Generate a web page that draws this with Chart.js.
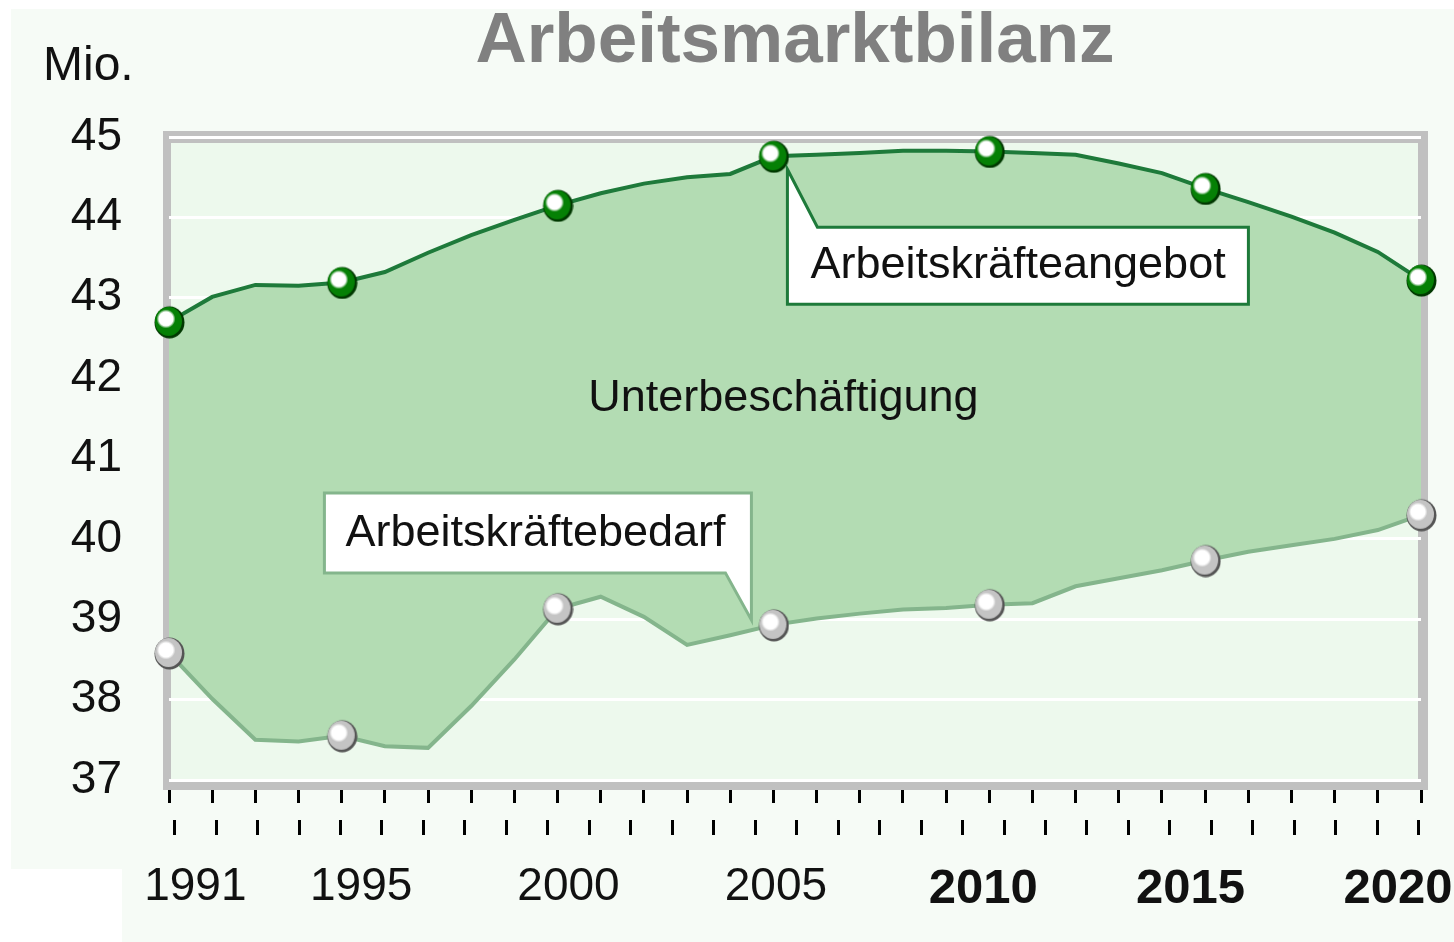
<!DOCTYPE html>
<html lang="de">
<head>
<meta charset="utf-8">
<title>Arbeitsmarktbilanz</title>
<script src="https://cdn.jsdelivr.net/npm/chart.js@4.4.1/dist/chart.umd.min.js"></script>
<style>
  html, body { margin: 0; padding: 0; background: #ffffff; overflow: hidden; }
  canvas { display: block; }
</style>
</head>
<body>
<canvas id="chart" width="1454" height="942"></canvas>
<script>
// Jahre (x-Achse)
const years = [1991, 1992, 1993, 1994, 1995, 1996, 1997, 1998, 1999, 2000,
               2001, 2002, 2003, 2004, 2005, 2006, 2007, 2008, 2009, 2010,
               2011, 2012, 2013, 2014, 2015, 2016, 2017, 2018, 2019, 2020];

// Arbeitskräfteangebot in Mio.
const angebot = [42.70, 43.01, 43.16, 43.15, 43.19, 43.32, 43.56, 43.78, 43.97, 44.15,
                 44.30, 44.42, 44.50, 44.54, 44.76, 44.78, 44.80, 44.83, 44.83, 44.82,
                 44.80, 44.78, 44.67, 44.55, 44.36, 44.19, 44.01, 43.81, 43.57, 43.22];

// Arbeitskräftebedarf in Mio.
const bedarf = [38.58, 38.01, 37.50, 37.48, 37.55, 37.42, 37.40, 37.92, 38.50, 39.13,
                39.28, 39.03, 38.68, 38.80, 38.93, 39.01, 39.07, 39.12, 39.14, 39.18,
                39.20, 39.41, 39.51, 39.61, 39.73, 39.84, 39.92, 40.00, 40.11, 40.30];

// Jahre mit Markierung und Beschriftung
const markerYears = [1991, 1995, 2000, 2005, 2010, 2015, 2020];
const boldYears = [2010, 2015, 2020];
const yMin = 37;
const yMax = 45;

const FONT = '"Liberation Sans", Arial, sans-serif';

// kleine "Kugel" als Punktsymbol
function makeBall(base, edge) {
    const c = document.createElement('canvas');
    c.width = 32;
    c.height = 34;
    const g = c.getContext('2d');
    g.fillStyle = edge;
    g.beginPath();
    g.ellipse(16.5, 17.5, 15, 16, 0, 0, Math.PI * 2);
    g.fill();
    g.fillStyle = base;
    g.beginPath();
    g.ellipse(15.5, 16.5, 13.5, 14.5, 0, 0, Math.PI * 2);
    g.fill();
    const grad = g.createRadialGradient(13, 14, 1, 13, 14, 9.5);
    grad.addColorStop(0, '#ffffff');
    grad.addColorStop(0.7, '#ffffff');
    grad.addColorStop(1, 'rgba(255,255,255,0)');
    g.fillStyle = grad;
    g.beginPath();
    g.arc(13, 14, 9.5, 0, Math.PI * 2);
    g.fill();
    return c;
}

const greenBall = makeBall('#058005', '#003800');
const grayBall = makeBall('#c4c4c4', '#555555');

const markerRadius = (ctx) => markerYears.includes(years[ctx.dataIndex]) ? 15 : 0;

// Hintergrund, Rahmen und Beschriftungen
const decoPlugin = {
    id: 'deco',
    beforeDraw(chart) {
        const ctx = chart.ctx;
        const ca = chart.chartArea;
        ctx.save();
        ctx.fillStyle = '#ffffff';
        ctx.fillRect(0, 0, chart.width, chart.height);
        ctx.fillStyle = '#f6fbf6';
        ctx.fillRect(11, 9, chart.width - 11, 860);
        ctx.fillRect(122, 860, chart.width - 122, chart.height - 860);
        // grauer Rahmen
        ctx.fillStyle = '#c0c0c0';
        ctx.fillRect(ca.left - 6, ca.top - 6, ca.right - ca.left + 13, ca.bottom - ca.top + 16);
        ctx.fillStyle = '#edf9ed';
        ctx.fillRect(ca.left + 2, ca.top + 6, ca.right - ca.left - 5, ca.bottom - ca.top - 5);
        ctx.restore();
    },
    afterDatasetsDraw(chart) {
        const ctx = chart.ctx;
        const ca = chart.chartArea;
        const xs = chart.scales.x;
        const ys = chart.scales.y;
        const i2005 = years.indexOf(2005);
        const p = chart.getDatasetMeta(0).data[i2005];
        const q = chart.getDatasetMeta(1).data[i2005];

        ctx.save();
        // Titel
        ctx.fillStyle = '#808080';
        ctx.font = 'bold 71px ' + FONT;
        ctx.textAlign = 'center';
        ctx.textBaseline = 'middle';
        ctx.fillText('Arbeitsmarktbilanz', (ca.left + ca.right) / 2, 42);

        // Einheit
        ctx.fillStyle = '#111111';
        ctx.font = '48px ' + FONT;
        ctx.textAlign = 'left';
        ctx.fillText('Mio.', 43, 67);

        // Fläche
        ctx.font = '45px ' + FONT;
        ctx.textAlign = 'center';
        ctx.fillText('Unterbeschäftigung', xs.getPixelForValue(2005) + 10, ys.getPixelForValue(41.75));

        // Callout Angebot
        ctx.beginPath();
        ctx.moveTo(p.x + 14, p.y + 13);
        ctx.lineTo(p.x + 44, p.y + 71);
        ctx.lineTo(p.x + 475, p.y + 71);
        ctx.lineTo(p.x + 475, p.y + 148);
        ctx.lineTo(p.x + 14, p.y + 148);
        ctx.closePath();
        ctx.fillStyle = '#ffffff';
        ctx.fill();
        ctx.lineWidth = 3;
        ctx.strokeStyle = '#1e7a3a';
        ctx.stroke();
        ctx.fillStyle = '#111111';
        ctx.textAlign = 'left';
        ctx.fillText('Arbeitskräfteangebot', p.x + 37, p.y + 109);

        // Callout Bedarf
        ctx.beginPath();
        ctx.moveTo(q.x - 22, q.y - 5);
        ctx.lineTo(q.x - 22, q.y - 132);
        ctx.lineTo(q.x - 449, q.y - 132);
        ctx.lineTo(q.x - 449, q.y - 52);
        ctx.lineTo(q.x - 48, q.y - 52);
        ctx.closePath();
        ctx.fillStyle = '#ffffff';
        ctx.fill();
        ctx.strokeStyle = '#84b58c';
        ctx.stroke();
        ctx.fillStyle = '#111111';
        ctx.fillText('Arbeitskräftebedarf', q.x - 428, q.y - 91);
        ctx.restore();
    }
};

new Chart(document.getElementById('chart'), {
    type: 'line',
    data: {
        datasets: [{
            label: 'Arbeitskräfteangebot',
            data: years.map((y, i) => ({ x: y, y: angebot[i] })),
            borderColor: '#1e7a3a',
            borderWidth: 4,
            backgroundColor: '#b3dcb3',
            fill: '+1',
            tension: 0,
            pointStyle: greenBall,
            pointRadius: markerRadius,
            clip: false
        }, {
            label: 'Arbeitskräftebedarf',
            data: years.map((y, i) => ({ x: y, y: bedarf[i] })),
            borderColor: '#84b58c',
            borderWidth: 4,
            fill: false,
            tension: 0,
            pointStyle: grayBall,
            pointRadius: markerRadius,
            clip: false
        }]
    },
    options: {
        responsive: false,
        animation: false,
        devicePixelRatio: 1,
        layout: { padding: { top: 137, right: 33, left: 0, bottom: 0 } },
        plugins: {
            legend: { display: false },
            tooltip: { enabled: false },
            filler: { drawTime: 'beforeDatasetsDraw' }
        },
        scales: {
            y: {
                min: yMin,
                max: yMax,
                afterFit(scale) { scale.width = 169; },
                ticks: {
                    stepSize: 1,
                    padding: 47,
                    color: '#111111',
                    font: { family: FONT, size: 46 }
                },
                grid: { color: '#ffffff', lineWidth: 3, drawTicks: false },
                border: { display: false }
            },
            x: {
                type: 'linear',
                min: years[0],
                max: years[years.length - 1],
                afterFit(scale) { scale.height = 0; },
                afterBuildTicks(scale) { scale.ticks = years.map(v => ({ value: v })); },
                ticks: { display: false, autoSkip: false },
                grid: {
                    drawOnChartArea: false,
                    drawTicks: true,
                    tickLength: 23,
                    tickWidth: 3,
                    tickColor: '#000000',
                    tickBorderDash: [13, 200],
                    tickBorderDashOffset: -10
                },
                border: { display: false }
            },
            x2: {
                type: 'linear',
                position: 'bottom',
                min: 1990.365,
                max: 2020.555,
                afterFit(scale) { scale.height = 162; },
                afterBuildTicks(scale) {
                    const t = years.map(v => ({ value: v - 0.5 }));
                    t.push({ value: years[years.length - 1] + 0.5 });
                    scale.ticks = t;
                },
                ticks: {
                    autoSkip: false,
                    maxRotation: 0,
                    labelOffset: 20.7,
                    padding: 24,
                    color: '#111111',
                    font: (ctx) => {
                        const yr = ctx.tick ? ctx.tick.value + 0.5 : 0;
                        return boldYears.includes(yr)
                            ? { family: FONT, size: 49, weight: 'bold' }
                            : { family: FONT, size: 46 };
                    },
                    callback: (value) => {
                        const yr = Math.round(value + 0.5);
                        return markerYears.includes(yr) ? String(yr) : '';
                    }
                },
                grid: {
                    drawOnChartArea: false,
                    drawTicks: true,
                    tickLength: 56,
                    tickWidth: 3,
                    tickColor: '#000000',
                    tickBorderDash: [15, 200],
                    tickBorderDashOffset: -40
                },
                border: { display: false }
            }
        }
    },
    plugins: [decoPlugin]
});
</script>
</body>
</html>
